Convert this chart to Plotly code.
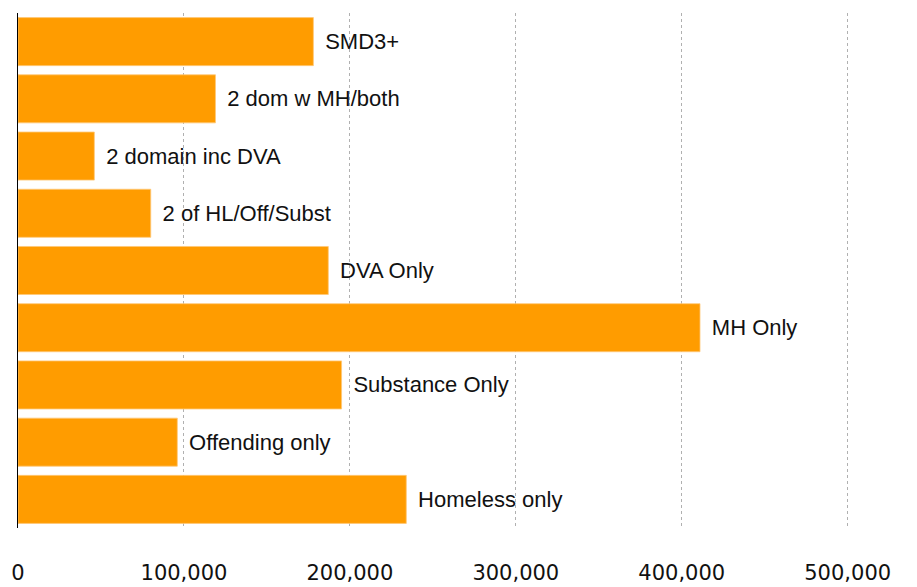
import plotly.graph_objects as go

categories = ["SMD3+", "2 dom w MH/both", "2 domain inc DVA", "2 of HL/Off/Subst",
              "DVA Only", "MH Only", "Substance Only", "Offending only", "Homeless only"]
values = [178000, 119000, 46000, 80000, 187000, 411000, 195000, 96000, 234000]
tick_vals = [0, 100000, 200000, 300000, 400000, 500000]
tick_text = ["0", "100,000", "200,000", "300,000", "400,000", "500,000"]

labels = ["\u2009\u2009" + c for c in categories]

fig = go.Figure(go.Bar(
    x=values, y=categories, orientation="h",
    marker=dict(color="#FF9C00", line=dict(color="rgba(255,200,120,0.8)", width=1)),
    text=labels, textposition="outside", cliponaxis=False,
    textfont=dict(size=22, color="#111111", family="Liberation Sans, Arial, sans-serif"),
))

fig.update_layout(
    width=909, height=579,
    margin=dict(l=10, r=66, t=5, b=59),
    plot_bgcolor="white", paper_bgcolor="white",
    font=dict(family="Liberation Sans, Arial, sans-serif", color="#111111"),
    bargap=0.16,
    showlegend=False,
    xaxis=dict(range=[0, 502000], tickvals=tick_vals, ticktext=tick_text,
               showgrid=True, gridcolor="#b0b0b0", griddash="dot", gridwidth=1,
               zeroline=False, showline=False, layer="above traces", automargin=False,
               tickfont=dict(size=21, color="#111111", family="DejaVu Sans, sans-serif"),
               ticklabelstandoff=30),
    yaxis=dict(autorange="reversed", showticklabels=False, showgrid=False, automargin=False,
               showline=True, linecolor="black", linewidth=1.2, zeroline=False),
)

fig.write_html("out.html")
